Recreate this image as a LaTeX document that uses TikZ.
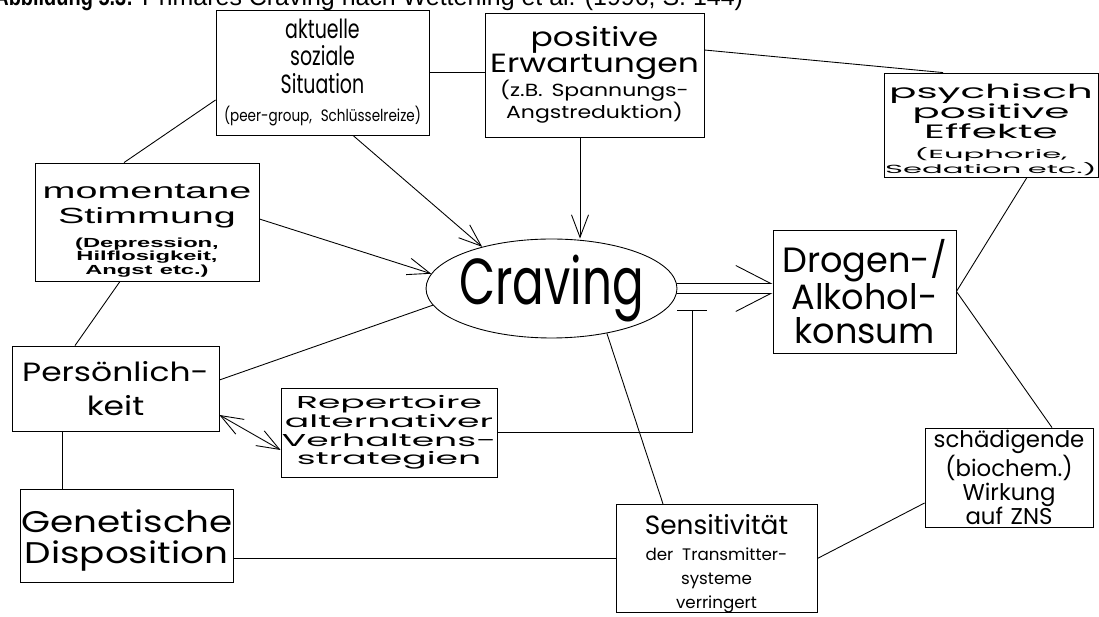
\documentclass[tikz,border=0pt]{standalone}
\usepackage{fontspec}
\setmainfont{Liberation Sans}
\newfontfamily\arialcond[FakeStretch=0.8]{Liberation Sans}
\newfontfamily\arialwide[FakeStretch=1.8]{Liberation Sans}
\newfontfamily\gothic{Poppins}
\newfontfamily\gothicnarrow[FakeStretch=0.72]{Poppins}
\newfontfamily\gothiccond[FakeStretch=0.82]{Poppins}
\newfontfamily\gothicwide[FakeStretch=1.25]{Poppins}
\newfontfamily\gothicxwide[FakeStretch=2.1]{Poppins}
\newfontfamily\gothicxxwide[FakeStretch=2.6]{Poppins}
\usetikzlibrary{positioning,arrows.meta,calc,shapes.geometric}
\newcommand{\setfs}[2]{\fontsize{#1}{#2}\selectfont}
\newcommand{\lift}[1]{\rule{0pt}{#1}}

\begin{document}
\begin{tikzpicture}[x=0.02cm,y=-0.02cm,
  every node/.style={text=black},
  box/.style={draw,line width=0.5pt,inner sep=0pt,align=center},
  link/.style={line width=0.5pt},
  >={Straight Barb[length=0.45cm,width=0.34cm]}]
  \useasboundingbox (0,0) rectangle (1099,617);
  \clip (0,0) rectangle (1099,617);
  % Titel (oben abgeschnitten)
  \node[anchor=base west,inner sep=0pt,font=\setfs{14.2}{16}] (title) at (-6,6)
    {{\arialcond\bfseries Abbildung 5.3:} Primäres Craving nach Wetterling et al. (1996, S. 144)};
  % Kaesten
  \node[box,minimum width=4.26cm,minimum height=2.5cm,text width=4.2cm,
    font=\gothicnarrow\setfs{15}{15.5}] (soz) at (322.5,72.5)
    {aktuelle\\soziale\\Situation\\\gothiccond\setfs{9.4}{16}(peer-group, Schlüsselreize)\par};
  \node[box,minimum width=4.38cm,minimum height=2.48cm,text width=4.3cm,
    font=\gothicwide\setfs{15}{14.5}] (erw) at (594.5,75)
    {positive\\Erwartungen\\\setfs{10}{14}(z.B. Spannungs-\\\setfs{10}{12.5}Angstreduktion)\par};
  \node[box,minimum width=4.28cm,minimum height=2.08cm,text width=4.28cm,
    font=\gothicxwide\setfs{11}{11.5}] (psy) at (991,125)
    {\lift{14pt}psychisch\\positive\\Effekte\\\gothicxxwide\setfs{6.7}{11.4}(Euphorie,\\\setfs{6.7}{8.5}Sedation etc.)\par};
  \node[box,minimum width=3.66cm,minimum height=2.46cm,text width=3.6cm,
    font=\gothic\setfs{20}{19.5}] (kons) at (864.5,291.5)
    {Drogen-/\\Alkohol-\\konsum\par};
  \node[box,minimum width=4.48cm,minimum height=2.36cm,text width=4.4cm,
    font=\arialwide\setfs{12.5}{14}] (stim) at (147,222)
    {\lift{18pt}momentane\\Stimmung\\\bfseries\setfs{7.5}{13.7}(Depression,\\\setfs{7.5}{7.4}Hilflosigkeit,\\\setfs{7.5}{8}Angst etc.)\par};
  \node[draw,ellipse,line width=0.5pt,minimum width=5.02cm,minimum height=1.98cm,
    inner xsep=-0.3cm,inner ysep=0pt,font=\gothicnarrow\setfs{37}{37}] (crav) at (551.5,288.5)
    {Craving};
  \node[box,minimum width=4.14cm,minimum height=1.7cm,text width=4.1cm,
    font=\gothicwide\setfs{15}{19}] (pers) at (115.5,388.5)
    {Persönlich-\\keit\par};
  \node[box,minimum width=4.32cm,minimum height=1.78cm,text width=4.3cm,
    font=\gothicxwide\setfs{9.8}{10.6}] (rep) at (389,432.5)
    {\mbox{Repertoire}\\\mbox{alternativer}\\\mbox{Verhaltens-}\\\mbox{strategien}\par};
  \node[box,minimum width=4.26cm,minimum height=1.86cm,text width=4.2cm,
    font=\gothicwide\setfs{17}{17.6}] (gen) at (126.5,535.5)
    {\lift{18.5pt}Genetische\\Disposition\par};
  \node[box,minimum width=4.02cm,minimum height=2.14cm,text width=4cm,
    font=\gothic\setfs{15}{15}] (sens) at (716.5,558.5)
    {\lift{17pt}Sensitivität\\[1.5pt]\setfs{9.5}{13.5}der Transmitter-\\systeme\\verringert\par};
  \node[box,minimum width=3.36cm,minimum height=1.98cm,text width=3.3cm,
    font=\gothic\setfs{13}{13.6}] (sch) at (1009,477.5)
    {schädigende\\(biochem.)\\Wirkung\\auf ZNS\par};
  \coordinate (stop) at (692,310);
  % Verbindungen
  \draw[link] ([yshift=-0.55cm]soz.west) -- ([xshift=-0.46cm]stim.north);
  \draw[link] (soz.east) -- (soz.east -| erw.west);
  \draw[link,->] ([xshift=0.61cm]soz.south) -- (crav.149);
  \draw[link,->] ([xshift=-0.29cm]erw.south) -- ([xshift=-0.29cm]erw.south |- crav.north);
  \draw[link] ([yshift=0.5cm]erw.east) -- ([xshift=-0.96cm]psy.north);
  \draw[link,->] ([yshift=0.06cm]stim.east) -- (crav.173);
  \draw[link] ([xshift=-0.54cm]stim.south) -- ([xshift=-0.81cm]pers.north);
  \draw[link] ([yshift=0.17cm]pers.east) -- (crav.188);
  \draw[link,<->] ([yshift=-0.53cm]pers.east) -- ([yshift=-0.35cm]rep.west);
  \draw[link,-{Bar[width=0.6cm]}] (rep.east) -| (stop);
  \draw[link,-{Straight Barb[left,length=0.7cm,width=0.72cm]}]
    ([yshift=0.1cm]crav.east) -- ([yshift=0.1cm]crav.east -| kons.west);
  \draw[link,-{Straight Barb[right,length=0.7cm,width=0.72cm]}]
    ([yshift=-0.1cm]crav.east) -- ([yshift=-0.1cm]crav.east -| kons.west);
  \draw[link] (kons.east) -- ([xshift=0.72cm]psy.south);
  \draw[link] (kons.east) -- ([xshift=0.86cm]sch.north);
  \draw[link] ([yshift=-0.51cm]sch.west) -- (sens.east);
  \draw[link] (crav.321) -- ([xshift=-1.07cm]sens.north);
  \draw[link] (gen.east |- sens.west) -- (sens.west);
  \draw[link] ([xshift=-1.07cm]pers.south) -- ([xshift=-1.07cm]pers.south |- gen.north);
\end{tikzpicture}
\end{document}
